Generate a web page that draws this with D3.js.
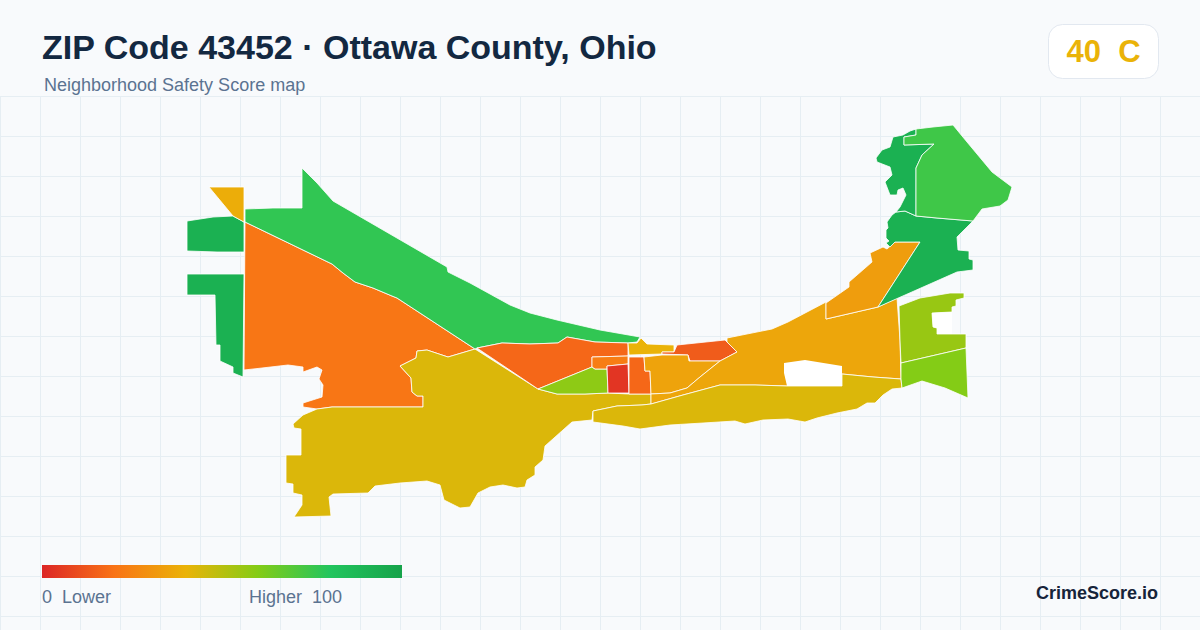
<!DOCTYPE html>
<html>
<head>
<meta charset="utf-8">
<script src="https://cdn.jsdelivr.net/npm/d3@7"></script>
<style>
html, body { margin: 0; padding: 0; background: #f8fafc; }
svg { display: block; }
text { font-family: "Liberation Sans", Arial, sans-serif; white-space: pre; }
</style>
</head>
<body>
<svg id="chart" width="1200" height="630"></svg>
<script>
// score colour ramp
var rampStops = [0, 20, 40, 60, 80, 100];
var rampColors = ['#dc2626', '#f97316', '#eab308', '#84cc16', '#22c55e', '#16a34a'];
var legendTicks = ['0  Lower', 'Higher  100'];

// tract scores, estimated from fill colours
var tractNames = ['westOrange', 'southYellow', 'northGreen', 'westGreenA', 'westGreenB', 'westAmber',
	'midOrange', 'midLime', 'midSmallOrange', 'midRed', 'midOrangeB', 'midAmberN', 'midRedE', 'midAmber',
	'eastAmber', 'stripYellow', 'neAmber', 'neGreenS', 'neGreenN', 'neLight', 'eLimeN', 'eLimeS'];
var tractScores = [21, 43, 77, 92, 92, 38, 17, 58, 23, 4, 17, 40, 14, 35, 36, 43, 33, 92, 92, 74, 56, 60];

// tract outlines, map grid units
var westOrange = [[245,222],[332,264],[343,273],[355,282],[373,288],[392,296],[397,298],[423,315],[475,349],[448,357],[427,350],[417,351],[416,358],[400,366],[411,378],[412,392],[417,396],[423,396],[423,407],[385,407],[332,407],[317,409],[303,407],[303,403],[322,397],[323,385],[319,379],[322,370],[317,367],[303,372],[303,367],[288,365],[262,368],[244,370]];
var southYellow = [[475,349],[448,357],[427,350],[417,351],[416,358],[400,366],[411,378],[412,392],[417,396],[423,396],[423,407],[385,407],[332,407],[317,409],[303,415],[293,424],[294,428],[301,429],[301,455],[286,455],[286,483],[293,484],[293,493],[302,495],[302,505],[294,517],[331,516],[329,497],[333,494],[368,493],[375,486],[400,483],[427,481],[440,485],[444,500],[452,504],[460,508],[470,507],[478,493],[490,487],[503,485],[517,488],[525,487],[527,480],[535,475],[535,467],[543,460],[545,446],[572,422],[592,420],[593,411],[617,406],[642,405],[651,404],[651,394],[629,394],[608,393],[585,394],[557,394],[538,389]];
var northGreen = [[302,168],[317,183],[333,201],[447,267],[448,272],[470,283],[490,294],[510,305],[530,313],[557,320],[600,330],[640,337],[637,342],[628,343],[595,342],[567,337],[558,343],[530,344],[502,343],[477,348],[475,349],[423,315],[397,298],[392,296],[373,288],[355,282],[343,273],[332,264],[245,222],[245,209],[273,208],[302,208]];
var westGreenA = [[187,221],[213,217],[233,216],[244,222],[244,252],[217,252],[187,251]];
var westGreenB = [[187,274],[244,274],[243,377],[233,373],[233,367],[220,361],[220,345],[216,345],[215,295],[187,295]];
var westAmber = [[209,187],[244,187],[244,222],[233,216]];
var midOrange = [[477,348],[502,343],[530,344],[558,343],[567,337],[595,342],[628,343],[628,356],[592,357],[592,367],[538,389]];
var midLime = [[538,389],[592,367],[595,369],[607,369],[608,393],[585,394],[557,394]];
var midSmallOrange = [[592,357],[628,356],[628,364],[607,366],[607,369],[595,369],[592,367]];
var midRed = [[607,366],[628,364],[629,393],[608,393]];
var midOrangeB = [[629,357],[644,357],[645,371],[650,371],[651,394],[629,394]];
var midAmberN = [[628,343],[637,343],[641,338],[647,344],[674,345],[674,352],[662,352],[662,354],[629,355]];
var midRedE = [[677,345],[725,340],[727,342],[737,352],[720,361],[690,361],[688,355],[662,354],[662,352],[674,352]];
var midAmber = [[644,357],[662,355],[688,355],[689,361],[720,361],[700,377],[687,388],[670,393],[651,394],[650,371],[645,371]];
var eastAmber = [[727,338],[772,329],[788,322],[826,302],[826,319],[878,307],[897,298],[900,340],[901,379],[873,377],[842,374],[842,386],[787,386],[755,385],[720,385],[683,395],[651,404],[651,394],[670,393],[687,388],[700,377],[720,361],[737,352],[727,342]];
var stripYellow = [[593,411],[617,406],[642,405],[651,404],[683,395],[720,385],[755,385],[787,386],[842,386],[842,374],[873,377],[901,379],[902,388],[892,389],[883,395],[875,403],[867,403],[857,409],[837,413],[817,418],[805,422],[788,419],[763,420],[745,424],[735,421],[703,423],[670,425],[640,429],[623,426],[593,422]];
var neAmber = [[826,303],[849,287],[849,282],[872,262],[870,253],[883,247],[887,249],[895,242],[920,242],[878,307],[826,319]];
var neGreenS = [[878,307],[920,242],[895,242],[890,247],[886,243],[889,241],[886,238],[886,230],[888,228],[887,222],[892,215],[896,212],[905,211],[916,216],[937,218],[973,221],[957,237],[958,250],[969,251],[969,259],[973,260],[973,270],[957,272]];
var neGreenN = [[876,158],[882,150],[890,147],[893,137],[903,135],[910,131],[916,129],[916,135],[904,137],[904,145],[934,144],[922,155],[916,168],[916,216],[905,211],[896,212],[900,207],[906,195],[903,188],[898,190],[897,195],[890,195],[885,182],[892,175],[890,167],[877,162]];
var neLight = [[916,129],[933,127],[953,125],[967,142],[992,172],[1012,187],[1008,200],[1000,206],[982,209],[973,221],[937,218],[916,216],[916,168],[922,155],[934,144],[904,145],[904,137],[916,135]];
var eLimeN = [[899,306],[920,298],[950,293],[964,293],[964,298],[956,300],[956,306],[952,307],[952,312],[932,313],[933,327],[937,328],[937,334],[966,334],[966,348],[901,363],[900,340]];
var eLimeS = [[901,363],[966,348],[968,398],[945,388],[922,381],[902,388],[901,379]];
var blankHole = [[784,363],[805,360],[842,366],[842,386],[787,386],[784,373]];
var blankNotch = [[932,313],[952,312],[952,334],[937,334],[937,328],[933,327]];

var tractRings = [westOrange, southYellow, northGreen, westGreenA, westGreenB, westAmber, midOrange, midLime,
	midSmallOrange, midRed, midOrangeB, midAmberN, midRedE, midAmber, eastAmber, stripYellow, neAmber,
	neGreenS, neGreenN, neLight, eLimeN, eLimeS];
var blankRings = [blankHole, blankNotch];

var w = 1200, h = 630;
var svg = d3.select('#chart');

// background grid
var gridX = d3.range(0, w + 1, 40);
var gridY = d3.range(96.5, h, 40);
svg.append('g').selectAll('line').data(gridX).enter().append('line')
	.attr('x1', function(d) { return d + 0.5; }).attr('x2', function(d) { return d + 0.5; })
	.attr('y1', 96).attr('y2', h)
	.attr('stroke', '#e6eef3').attr('stroke-width', 1);
svg.append('g').selectAll('line').data(gridY).enter().append('line')
	.attr('x1', 0).attr('x2', w)
	.attr('y1', function(d) { return d; }).attr('y2', function(d) { return d; })
	.attr('stroke', '#e6eef3').attr('stroke-width', 1);

var color = d3.scaleLinear().domain(rampStops).range(rampColors);

// rings are closed here and fed to geoPath as planar features
var project = d3.geoIdentity();
var path = d3.geoPath(project);
function feature(ring) {
	return { type: 'Polygon', coordinates: [ring.concat([ring[0]])] };
}

svg.append('g').selectAll('path').data(tractRings).enter().append('path')
	.attr('d', function(d) { return path(feature(d)); })
	.attr('fill', function(d, i) { return color(tractScores[i]); })
	.attr('stroke', '#ffffff').attr('stroke-width', 0.8).attr('stroke-linejoin', 'round');

// holes with no score stay plain white, on top of the tracts around them
svg.append('g').selectAll('path').data(blankRings).enter().append('path')
	.attr('d', function(d) { return path(feature(d)); })
	.attr('fill', '#ffffff');

// header
svg.append('text').attr('x', 42).attr('y', 59).text('ZIP Code 43452 · Ottawa County, Ohio')
	.attr('font-size', 34).attr('font-weight', 700).attr('fill', '#132841');
svg.append('text').attr('x', 44).attr('y', 91).text('Neighborhood Safety Score map')
	.attr('font-size', 18).attr('fill', '#5b7391');

// score badge
svg.append('rect').attr('x', 1048.5).attr('y', 24.5).attr('width', 110).attr('height', 54).attr('rx', 14)
	.attr('fill', '#ffffff').attr('stroke', '#e2e8f0');
svg.append('text').attr('x', 1103.5).attr('y', 62).attr('text-anchor', 'middle').text('40  C')
	.attr('font-size', 31).attr('font-weight', 700).attr('fill', '#eab308');

// legend
var legendX = d3.scaleLinear().domain([0, 100]).range([42, 402]);
var grad = svg.append('defs').append('linearGradient').attr('id', 'ramp');
grad.selectAll('stop').data(rampStops).enter().append('stop')
	.attr('offset', function(d) { return d + '%'; })
	.attr('stop-color', function(d) { return color(d); });
svg.append('rect').attr('x', legendX(0)).attr('y', 565).attr('width', legendX(100) - legendX(0)).attr('height', 13)
	.attr('fill', 'url(#ramp)');
svg.append('text').attr('x', 42).attr('y', 603).text(legendTicks[0]).attr('font-size', 18).attr('fill', '#5b7391');
svg.append('text').attr('x', 342).attr('y', 603).attr('text-anchor', 'end').text(legendTicks[1])
	.attr('font-size', 18).attr('fill', '#5b7391');

svg.append('text').attr('x', 1158).attr('y', 599).attr('text-anchor', 'end').text('CrimeScore.io')
	.attr('font-size', 18).attr('font-weight', 700).attr('fill', '#16243a');
</script>
</body>
</html>
